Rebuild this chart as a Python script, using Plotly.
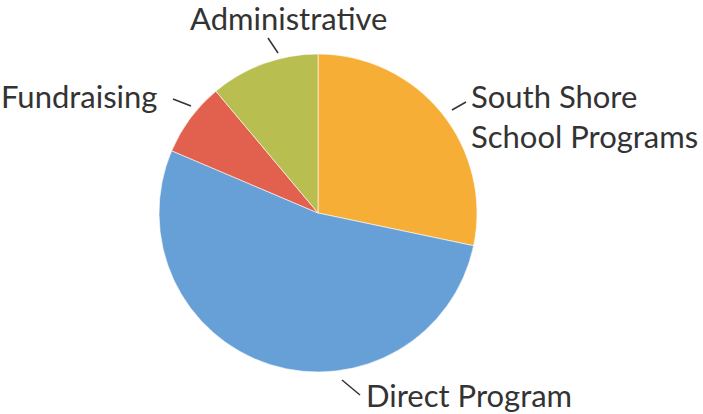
import plotly.graph_objects as go

labels = ["South Shore School Programs", "Direct Program", "Fundraising", "Administrative"]
values = [28.3, 53.1, 7.5, 11.1]
colors = ["#F6AE37", "#679FD7", "#E2614E", "#B8BF50"]

W, H = 703, 414

def px(x):
    return x / W

def py(y):
    return 1 - y / H

fig = go.Figure()
fig.add_trace(go.Pie(
    labels=labels, values=values, sort=False, direction="clockwise", rotation=0,
    marker=dict(colors=colors, line=dict(color="rgba(255,255,255,0.6)", width=1)),
    textinfo="none", hoverinfo="label+percent", showlegend=False,
    domain=dict(x=[px(318 - 159), px(318 + 159)], y=[py(213 + 159), py(213 - 159)]),
))

font = dict(family="Lato", size=31, color="#333333")
label_pos = [
    ("South Shore<br>School Programs", 469, 116, "left"),
    ("Direct Program", 364, 395, "left"),
    ("Fundraising", -1, 96, "left"),
    ("Administrative", 188, 18, "left"),
]
for t, x, y, xa in label_pos:
    fig.add_annotation(text=t, x=px(x), y=py(y), xref="paper", yref="paper",
                       xanchor=xa, yanchor="middle", showarrow=False, font=font, align="left")

leaders = [
    (452, 110, 466, 102),
    (342, 380, 360, 395),
    (173, 99, 191, 106),
    (268, 38, 278, 53),
]
for x0, y0, x1, y1 in leaders:
    fig.add_shape(type="line", xref="paper", yref="paper",
                  x0=px(x0), y0=py(y0), x1=px(x1), y1=py(y1),
                  line=dict(color="#333333", width=1.5))

fig.update_layout(width=W, height=H, margin=dict(l=0, r=0, t=0, b=0),
                  paper_bgcolor="white", plot_bgcolor="white")
fig.write_html("out.html", config={"displayModeBar": False},
               post_script="document.body.style.margin='0';document.body.style.overflow='hidden';")
